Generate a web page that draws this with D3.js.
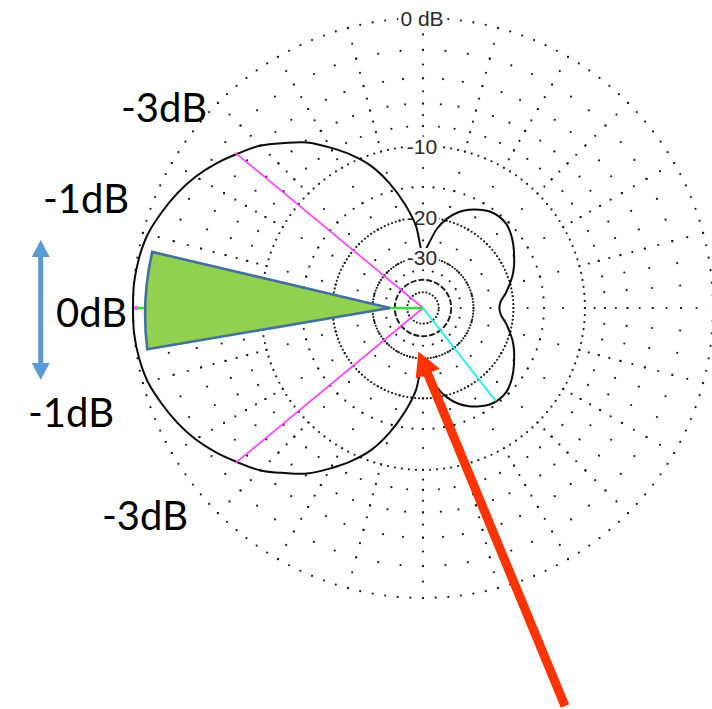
<!DOCTYPE html>
<html><head><meta charset="utf-8">
<script src="https://cdn.jsdelivr.net/npm/d3@7"></script>
<style>html,body{margin:0;padding:0;background:#fff;overflow:hidden} svg{display:block}</style>
</head><body>
<svg id="c" width="712" height="709"></svg>
<script>
// ---------- data (azimuth in degrees, 0 = right, counter-clockwise) ----------
const azimuths = [0,5,10,15,20,25,30,35,40,45,50,55,60,65,70,75,80,85,90,95,100,105,110,115,120,125,130,135,140,145,150,155,160,165,170,175,
                  180,185,190,195,200,205,210,215,220,225,230,235,240,245,250,255,260,265,270,275,280,285,290,295,300,305,310,315,320,325,330,335,340,345,350,355];
const gainDb = [-22.9,-22.5,-21.3,-20.2,-19.1,-18.2,-17.4,-16.6,-15.9,-15.4,-15.3,-15.5,-16.1,-16.9,-18.0,-19.6,-22.0,-25.8,-28.5,-21.5,-17.3,-13.9,-11.2,-9.3,-7.7,-6.2,-5.1,-4.0,-3.2,-2.4,-1.7,-1.15,-0.7,-0.3,-0.1,0,
                0,0,-0.1,-0.3,-0.7,-1.15,-1.7,-2.4,-3.2,-4.0,-5.1,-6.2,-7.7,-9.3,-11.2,-13.9,-17.3,-21.5,-28.5,-25.8,-22.0,-19.6,-18.0,-16.9,-16.1,-15.5,-15.3,-15.4,-15.9,-16.6,-17.4,-18.2,-19.1,-20.2,-21.3,-22.5];
const ringDb = [0,-2,-4,-6,-8,-10,-15,-20,-30,-40,-50];
const labelDb = [0,-10,-20,-30];
const labelText = ["0 dB","-10","-20","-30"];
const spokeAz = [0,15,30,45,60,75,90,105,120,135,150,165,180,195,210,225,240,255,270,285,300,315,330,345];
const spokeDotDb = [0,-1,-2,-3,-4,-5,-6,-7,-8,-9,-10,-12.5,-15,-17.5,-20,-25,-30,-35];
const halfPowerAz = [140.4, 219.6];
const halfPowerDb = -3;
const mainLobeAz = 180, mainLobeDb = 0;
const rearLobeAz = 308, rearLobeDb = -15.4;
const noteText = ["-3dB","-1dB","0dB","-1dB","-3dB"];

// ---------- setup ----------
const svg = d3.select("#c");
const cx = 423, cy = 308, R = 290;
// ARRL log-periodic radial scale: each 2 dB is a factor of 0.89
const uScale = d3.scaleLinear().domain([0,1]).range([0,R]);
const rScale = db => uScale(Math.pow(0.89, -db/2));
const rad = a => a*Math.PI/180;
const pt = (az, r) => [cx + r*Math.cos(rad(az)), cy - r*Math.sin(rad(az))];

const g = svg.append("g");
const dotR = 1.1, dotFill = "#1a1a1a";

// ---------- grid rings ----------
const ringStep = {"0":2.5,"-2":5,"-4":5,"-6":5,"-8":5,"-10":2.5,"-15":5,"-20":2.5,"-30":3.4,"-50":13};
ringDb.forEach(db => {
  const r = rScale(db);
  if (db === -40) {
    g.append("circle").attr("cx",cx).attr("cy",cy).attr("r",r)
      .attr("fill","none").attr("stroke","#1a1a1a").attr("stroke-width",1.9)
      .attr("stroke-dasharray","6 2");
    return;
  }
  const step = ringStep[String(db)];
  const n = Math.round(360/step);
  const pts = d3.range(n).map(i => pt(i*step, r));
  g.append("g").selectAll("circle").data(pts).join("circle")
    .attr("cx",d=>d[0]).attr("cy",d=>d[1]).attr("r",dotR).attr("fill",dotFill);
});
// ---------- spokes ----------
const spokePts = [];
spokeAz.forEach(a => spokeDotDb.forEach(db => spokePts.push(pt(a, rScale(db)))));
g.append("g").selectAll("circle").data(spokePts).join("circle")
  .attr("cx",d=>d[0]).attr("cy",d=>d[1]).attr("r",dotR).attr("fill",dotFill);

// ---------- ring labels ----------
function ringLabel(i){
  const y = cy - rScale(labelDb[i]);
  const lg = svg.append("g");
  const t = lg.append("text").attr("x",cx-1).attr("y",y).attr("text-anchor","middle")
    .attr("dominant-baseline","central")
    .style("font-family","'Liberation Sans', Arial, sans-serif").style("font-size","21px")
    .attr("fill","#2a2a2a").text(labelText[i]);
  const bb = t.node().getBBox();
  lg.insert("rect","text").attr("x",bb.x-2).attr("y",bb.y+2).attr("width",bb.width+4).attr("height",bb.height-4).attr("fill","#fff");
}
ringLabel(0); ringLabel(1); ringLabel(2);

// ---------- pattern ----------
const pattern = azimuths.map((a,i)=>({az:a, db:gainDb[i]}));
const line = d3.lineRadial()
  .angle(d => rad(90 - d.az))
  .radius(d => rScale(d.db))
  .curve(d3.curveCatmullRomClosed.alpha(0.5));
svg.append("path").attr("transform",`translate(${cx},${cy})`)
  .attr("d", line(pattern)).attr("fill","none").attr("stroke","#0a0a0a").attr("stroke-width",2);

ringLabel(3);

// ---------- marker lines ----------
halfPowerAz.forEach(a => {
  const p = pt(a, rScale(halfPowerDb));
  svg.append("line").attr("x1",cx).attr("y1",cy).attr("x2",p[0]).attr("y2",p[1])
    .attr("stroke","#ff44ff").attr("stroke-width",1.7);
});
{
  const p = pt(rearLobeAz, rScale(rearLobeDb));
  svg.append("line").attr("x1",cx).attr("y1",cy).attr("x2",p[0]).attr("y2",p[1])
    .attr("stroke","#22f0f0").attr("stroke-width",1.9);
  const q = pt(mainLobeAz, rScale(mainLobeDb));
  svg.append("line").attr("x1",cx).attr("y1",cy).attr("x2",q[0]+2).attr("y2",q[1])
    .attr("stroke","#33e033").attr("stroke-width",2.4);
  svg.append("circle").attr("cx",q[0]+3).attr("cy",q[1]).attr("r",2.2).attr("fill","#ff55ff");
  svg.append("circle").attr("cx",q[0]+5).attr("cy",q[1]).attr("r",1.6).attr("fill","#33e033");
}

// ---------- annotation overlay ----------
{
  const tip = pt(180, 33);
  const a = pt(168.3, 276.5), b = pt(188.5, 278.8);
  svg.append("path")
    .attr("d", `M${tip[0]},${tip[1]} L${a[0]},${a[1]} A278 278 0 0 0 ${b[0]},${b[1]} Z`)
    .attr("fill","#92d050").attr("stroke","#41719c").attr("stroke-width",2.6).attr("stroke-linejoin","miter");
}
const notePos = [[121,121.5],[43,213],[56,327],[28,427],[102,530]];
noteText.forEach((t,i)=>{
  svg.append("text").attr("x",notePos[i][0]).attr("y",notePos[i][1])
    .style("font-family","Lato, 'Open Sans', sans-serif").style("font-size","40px")
    .attr("fill","#000").text(t);
});
function arrow(x1,y1,x2,y2,shaftW,headL,headW,color){
  const dx=x2-x1, dy=y2-y1, L=Math.hypot(dx,dy), ux=dx/L, uy=dy/L, nx=-uy, ny=ux;
  const bx=x2-ux*headL, by=y2-uy*headL;
  const s=shaftW/2, h=headW/2;
  const P=[[x1+nx*s,y1+ny*s],[bx+nx*s,by+ny*s],[bx+nx*h,by+ny*h],[x2,y2],[bx-nx*h,by-ny*h],[bx-nx*s,by-ny*s],[x1-nx*s,y1-ny*s]];
  return svg.append("path").attr("d","M"+P.map(p=>p.join(",")).join("L")+"Z").attr("fill",color);
}
function doubleArrow(x,y1,y2,shaftW,headL,headW,color){
  const s=shaftW/2,h=headW/2;
  const P=[[x,y1],[x+h,y1+headL],[x+s,y1+headL],[x+s,y2-headL],[x+h,y2-headL],[x,y2],[x-h,y2-headL],[x-s,y2-headL],[x-s,y1+headL],[x-h,y1+headL]];
  svg.append("path").attr("d","M"+P.map(p=>p.join(",")).join("L")+"Z").attr("fill",color);
}
doubleArrow(40.7,240,380,5,17,18,"#5b9bd5");
arrow(565,706,418.5,351.5,9,24,26,"#ff3300");
</script>
</body></html>
